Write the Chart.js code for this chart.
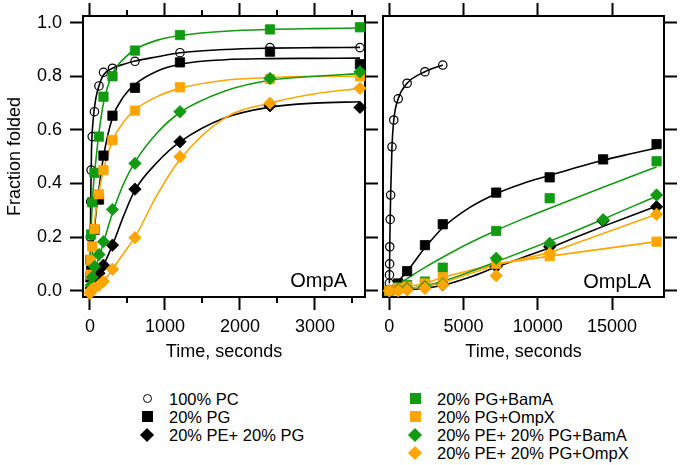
<!DOCTYPE html>
<html><head><meta charset="utf-8">
<script src="https://cdn.jsdelivr.net/npm/chart.js@4.4.1/dist/chart.umd.min.js"></script>
<style>
html,body{margin:0;padding:0;background:#fff;}
body{width:680px;height:465px;position:relative;overflow:hidden;font-family:"Liberation Sans",Arial,sans-serif;color:#000;}
canvas{position:absolute;top:0;}
.lbl{position:absolute;font-size:20px;line-height:20px;white-space:nowrap;}
.leg{position:absolute;font-size:16.5px;line-height:18px;white-space:nowrap;}
.mk{position:absolute;box-sizing:border-box;}
</style></head><body>
<canvas id="cA" width="380" height="370" style="left:0"></canvas>
<canvas id="cB" width="300" height="370" style="left:380px"></canvas>
<div class="lbl" style="right:333px;top:270px">OmpA</div>
<div class="lbl" style="right:29px;top:271px">OmpLA</div>
<div id="legend"></div>
<script>
// ---------- tick labels ----------
const yTicks = [0, 0.2, 0.4, 0.6, 0.8, 1.0];
const ompaXTicks = [0, 1000, 2000, 3000];
const ompaXMinor = [500, 1500, 2500, 3500];
const omplaXTicks = [0, 5000, 10000, 15000];

// ---------- series names ----------
const seriesNames = ["100% PC", "20% PG", "20% PE+ 20% PG", "20% PG+BamA", "20% PG+OmpX", "20% PE+ 20% PG+BamA", "20% PE+ 20% PG+OmpX"];

// ---------- OmpA data (time, s ; fraction folded) ----------
const ompaPC_t    = [5,10,15,30,60,120,180,300,600,1200,2400,3600];
const ompaPC_y    = [0.20,0.332,0.45,0.575,0.668,0.764,0.815,0.83,0.856,0.888,0.907,0.907];
const ompaPG_t    = [5,15,60,120,180,300,600,1200,2400,3600];
const ompaPG_y    = [0.05,0.075,0.227,0.34,0.504,0.653,0.757,0.852,0.892,0.845];
const ompaPEPG_t  = [15,30,60,120,180,300,600,1200,2400,3600];
const ompaPEPG_y  = [0.01,0.02,0.04,0.065,0.095,0.17,0.379,0.556,0.69,0.684];
const ompaBam_t   = [5,15,30,60,120,180,300,600,1200,2400,3600];
const ompaBam_y   = [0.115,0.21,0.33,0.44,0.575,0.724,0.80,0.896,0.954,0.975,0.983];
const ompaOmpX_t  = [5,15,30,60,120,180,300,600,1200,2400,3600];
const ompaOmpX_y  = [0.06,0.115,0.165,0.23,0.36,0.45,0.562,0.672,0.759,0.79,0.80];
const ompaPEBam_t = [15,30,60,120,180,300,600,1200,2400,3600];
const ompaPEBam_y = [0.02,0.05,0.09,0.135,0.183,0.303,0.475,0.668,0.792,0.817];
const ompaPEOmpX_t = [0,15,30,60,120,180,300,600,1200,2400,3600];
const ompaPEOmpX_y = [-0.01,0.0,0.005,0.01,0.02,0.035,0.08,0.198,0.50,0.70,0.755];

// OmpA fitted curves
const ompaFit_t      = [0,10,20,40,80,120,180,300,450,600,900,1200,1800,2400,3000,3600];
const ompaFitPC      = [0,0.34,0.52,0.63,0.72,0.765,0.805,0.83,0.845,0.857,0.873,0.888,0.90,0.905,0.907,0.908];
const ompaFitPG      = [0,0.05,0.10,0.17,0.29,0.38,0.50,0.645,0.725,0.77,0.82,0.845,0.862,0.866,0.867,0.868];
const ompaFitPEPG    = [0,0.005,0.012,0.025,0.045,0.065,0.095,0.17,0.28,0.375,0.48,0.555,0.645,0.685,0.70,0.705];
const ompaFitBam     = [0,0.15,0.26,0.37,0.49,0.59,0.70,0.81,0.865,0.90,0.935,0.952,0.968,0.975,0.978,0.98];
const ompaFitOmpX    = [0,0.07,0.13,0.20,0.30,0.37,0.45,0.56,0.63,0.675,0.725,0.755,0.785,0.795,0.80,0.80];
const ompaFitPEBam   = [0,0.015,0.03,0.05,0.09,0.125,0.18,0.29,0.40,0.48,0.59,0.665,0.745,0.785,0.80,0.81];
const ompaFitPEOmpX  = [0,0.001,0.003,0.006,0.012,0.02,0.035,0.08,0.14,0.20,0.36,0.49,0.645,0.70,0.735,0.755];

// ---------- OmpLA data ----------
const omplaPC_t    = [5,10,20,30,60,90,180,300,600,1200,2400,3600];
const omplaPC_y    = [0.028,0.059,0.10,0.164,0.266,0.357,0.537,0.637,0.716,0.774,0.817,0.842];
const omplaPG_t    = [0,600,1200,2400,3600,7200,10800,14400,18000];
const omplaPG_y    = [0.0,0.027,0.073,0.17,0.248,0.366,0.423,0.49,0.547];
const omplaPEPG_t  = [0,600,1200,2400,3600,7200,10800,14400,18000];
const omplaPEPG_y  = [0,0.003,0.006,0.012,0.022,0.09,0.164,0.261,0.313];
const omplaBam_t   = [0,600,1200,2400,3600,7200,10800,18000];
const omplaBam_y   = [0,0.012,0.021,0.034,0.086,0.223,0.345,0.483];
const omplaOmpX_t  = [0,600,1200,2400,3600,7200,10800,18000];
const omplaOmpX_y  = [0,0.01,0.015,0.027,0.05,0.10,0.129,0.183];
const omplaPEBam_t = [0,600,1200,2400,3600,7200,10800,14400,18000];
const omplaPEBam_y = [0,0.004,0.008,0.015,0.025,0.121,0.177,0.265,0.357];
const omplaPEOmpX_t = [0,600,1200,2400,3600,7200,10800,18000];
const omplaPEOmpX_y = [0,0,0.003,0.009,0.021,0.056,0.139,0.285];

// OmpLA fitted / connecting curves
const omplaFit_t     = [0,1200,2400,3600,5400,7200,9000,10800,12600,14400,16200,18000];
const omplaFitPG     = [0,0.073,0.16,0.235,0.31,0.362,0.40,0.43,0.46,0.487,0.51,0.532];
const omplaFitBam    = [0,0.045,0.087,0.125,0.178,0.225,0.268,0.308,0.347,0.386,0.424,0.462];
const omplaFitPEPG   = [0,0.003,0.009,0.02,0.05,0.088,0.124,0.16,0.2,0.24,0.278,0.315];
const omplaFitPEBam  = [0,0.006,0.018,0.035,0.07,0.108,0.146,0.185,0.225,0.267,0.31,0.352];
const omplaLinePEOmpX_t = [0,2400,3600,7200,10800,18000];
const omplaLinePEOmpX_y = [0,0.015,0.03,0.097,0.142,0.285];

// ---------- styling ----------
const GREEN = '#129a12', ORANGE = '#ffa500', BLACK = '#000000';
const FONT = "'Liberation Sans', Arial, Helvetica, sans-serif";
const seriesColor = [BLACK, BLACK, BLACK, GREEN, ORANGE, GREEN, ORANGE];
const seriesStyle = ['circle','rect','rectRot','rect','rect','rectRot','rectRot'];

function pts(t, y){ return t.map((v,i)=>({x:v, y:y[i]})); }

function marker(i, t, y){
  const st = seriesStyle[i], c = seriesColor[i], hollow = (st==='circle');
  return { type:'line', label: seriesNames[i], data: pts(t,y), showLine:false,
    pointStyle: st, pointRadius: st==='circle'?4.2:(st==='rect'?6.6:6.2),
    pointBackgroundColor: hollow ? 'rgba(0,0,0,0)' : c, pointBorderColor: c,
    pointBorderWidth: hollow ? 1.2 : 0.8, borderColor: c, backgroundColor: c,
    order: 10 - i, clip: false, xAxisID:'x', yAxisID:'y' };
}
function curve(i, t, y, straight){
  const c = seriesColor[i];
  return { type:'line', label: seriesNames[i] + ' fit', data: pts(t,y), showLine:true,
    pointRadius:0, pointHoverRadius:0, borderColor:c, borderWidth:1.6, fill:false,
    cubicInterpolationMode: straight ? 'default' : 'monotone', tension:0,
    order: 30 - i, xAxisID:'x', yAxisID:'y' };
}

const axisFont = {family: FONT, size: 18};
const gridOpts = (len) => ({ display:true, drawOnChartArea:false, drawTicks: len>0, tickLength: len, tickWidth:2, tickColor:'#000', color:'#000' });
const borderOpts = { display:true, color:'#000', width:2 };
const setTicks = (vals) => (s) => { s.ticks = vals.map(v=>({value:v})); };
const noPad = (s) => { s.paddingLeft = 0; s.paddingRight = 0; s.paddingTop = 0; s.paddingBottom = 0; };

function scalesFor(xmin, xmax, xticks, leftLabels, rightW, leftW){
  return {
    x: { type:'linear', position:'bottom', min:xmin, max:xmax,
      afterBuildTicks: setTicks(xticks), afterFit: s => { s.height = 73; noPad(s); },
      ticks: { font: axisFont, color:'#000', padding:6, maxRotation:0, autoSkip:false, callback: v => String(v) },
      grid: gridOpts(13), border: borderOpts,
      title: { display:true, text:'Time, seconds', font: axisFont, color:'#000', padding:{top:0, bottom:7} } },
    xTop: { type:'linear', position:'top', min:xmin, max:xmax,
      afterBuildTicks: setTicks(xticks), afterFit: s => { s.height = 16; noPad(s); },
      ticks: { display:false }, grid: gridOpts(13), border: borderOpts },
    y: { type:'linear', position:'left', min:-0.0235, max:1.025,
      afterBuildTicks: setTicks(yTicks), afterFit: s => { s.width = leftW; noPad(s); },
      ticks: { display: leftLabels, font: axisFont, color:'#000', padding:8, callback: v => Number(v).toFixed(1) },
      grid: gridOpts(leftLabels ? 13 : 0), border: borderOpts,
      title: { display: leftLabels, text:'Fraction folded', font: axisFont, color:'#000', padding:{top:4, bottom:0} } },
    yRight: { type:'linear', position:'right', min:-0.0235, max:1.025,
      afterBuildTicks: setTicks(yTicks), afterFit: s => { s.width = rightW; noPad(s); },
      ticks: { display:false }, grid: gridOpts(13), border: borderOpts }
  };
}

const minorTicks = {
  id:'minorTicks',
  afterDraw(chart){
    if (chart.canvas.id !== 'cA') return;
    const s = chart.scales.x, a = chart.chartArea, ctx = chart.ctx;
    ctx.save(); ctx.strokeStyle = '#000'; ctx.lineWidth = 2;
    ompaXMinor.forEach(v => {
      const px = Math.round(s.getPixelForValue(v));
      ctx.beginPath();
      ctx.moveTo(px, a.bottom); ctx.lineTo(px, a.bottom + 6);
      ctx.moveTo(px, a.top); ctx.lineTo(px, a.top - 6);
      ctx.stroke();
    });
    ctx.restore();
  }
};

const common = {
  responsive:false, animation:false, devicePixelRatio:1,
  layout:{ padding:0, autoPadding:false },
  plugins:{ legend:{display:false}, tooltip:{enabled:false} },
  events: []
};

new Chart(document.getElementById('cA'), {
  type:'line',
  data:{ datasets:[
    curve(0, ompaFit_t, ompaFitPC), curve(1, ompaFit_t, ompaFitPG), curve(2, ompaFit_t, ompaFitPEPG),
    curve(3, ompaFit_t, ompaFitBam), curve(4, ompaFit_t, ompaFitOmpX), curve(5, ompaFit_t, ompaFitPEBam),
    curve(6, ompaFit_t, ompaFitPEOmpX),
    marker(0, ompaPC_t, ompaPC_y), marker(1, ompaPG_t, ompaPG_y), marker(2, ompaPEPG_t, ompaPEPG_y),
    marker(3, ompaBam_t, ompaBam_y), marker(4, ompaOmpX_t, ompaOmpX_y), marker(5, ompaPEBam_t, ompaPEBam_y),
    marker(6, ompaPEOmpX_t, ompaPEOmpX_y)
  ]},
  options: Object.assign({}, common, { scales: scalesFor(-93, 3667, ompaXTicks, true, 15, 83) }),
  plugins:[minorTicks]
});

new Chart(document.getElementById('cB'), {
  type:'line',
  data:{ datasets:[
    curve(0, omplaPC_t, omplaPC_y), curve(1, omplaFit_t, omplaFitPG), curve(2, omplaFit_t, omplaFitPEPG),
    curve(3, omplaFit_t, omplaFitBam), curve(4, omplaOmpX_t, omplaOmpX_y, true), curve(5, omplaFit_t, omplaFitPEBam),
    curve(6, omplaLinePEOmpX_t, omplaLinePEOmpX_y, true),
    marker(0, omplaPC_t, omplaPC_y), marker(1, omplaPG_t, omplaPG_y), marker(2, omplaPEPG_t, omplaPEPG_y),
    marker(3, omplaBam_t, omplaBam_y), marker(4, omplaOmpX_t, omplaOmpX_y), marker(5, omplaPEBam_t, omplaPEBam_y),
    marker(6, omplaPEOmpX_t, omplaPEOmpX_y)
  ]},
  options: Object.assign({}, common, { scales: scalesFor(-425, 18500, omplaXTicks, false, 16, 3) })
});

// ---------- legend (HTML) ----------
const legendCols = [[0,1,2],[3,4,5,6]];
const legendMarkX = [147, 415], legendTextX = [169, 437];
const legendRowY = [398.5, 416.8, 435, 453.3];
const leg = document.getElementById('legend');
legendCols.forEach((col, ci) => {
  col.forEach((si, ri) => {
    const cy = legendRowY[ri], cx = legendMarkX[ci];
    const m = document.createElement('div'); m.className = 'mk';
    const st = seriesStyle[si], c = seriesColor[si];
    if (st === 'circle') {
      Object.assign(m.style, {left:(cx-4.5)+'px', top:(cy-4.5)+'px', width:'9px', height:'9px', border:'1.2px solid '+c, borderRadius:'50%'});
    } else if (st === 'rect') {
      Object.assign(m.style, {left:(cx-5.5)+'px', top:(cy-5.5)+'px', width:'11px', height:'11px', background:c});
    } else {
      Object.assign(m.style, {left:(cx-5)+'px', top:(cy-5)+'px', width:'10px', height:'10px', background:c, transform:'rotate(45deg)'});
    }
    leg.appendChild(m);
    const t = document.createElement('div'); t.className = 'leg';
    t.textContent = seriesNames[si];
    t.style.left = legendTextX[ci] + 'px'; t.style.top = (cy - 9) + 'px';
    leg.appendChild(t);
  });
});
</script>
</body></html>
